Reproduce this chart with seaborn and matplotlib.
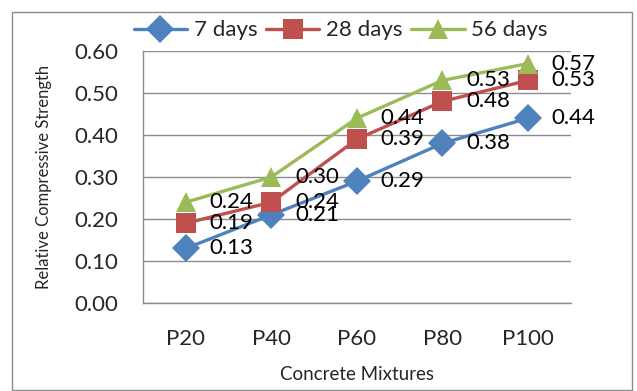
import matplotlib
matplotlib.use("Agg")
import matplotlib.pyplot as plt
import seaborn as sns
import pandas as pd
from matplotlib.patches import Rectangle

categories = ["P20", "P40", "P60", "P80", "P100"]
days7 = [0.13, 0.21, 0.29, 0.38, 0.44]
days28 = [0.19, 0.24, 0.39, 0.48, 0.53]
days56 = [0.24, 0.30, 0.44, 0.53, 0.57]
series_names = ["7 days", "28 days", "56 days"]
yticks = [0.0, 0.1, 0.2, 0.3, 0.4, 0.5, 0.6]

sns.set_theme(style="white")
plt.rcParams["font.family"] = ["Lato", "DejaVu Sans"]

rows = []
for name, vals in zip(series_names, [days7, days28, days56]):
    for c, v in zip(categories, vals):
        rows.append({"Mix": c, "Value": v, "Series": name})
df = pd.DataFrame(rows)

colors = {"7 days": "#4F81BD", "28 days": "#C0504D", "56 days": "#9BBB59"}
markers = {"7 days": "D", "28 days": "s", "56 days": "^"}

fig = plt.figure(figsize=(6.37, 3.91), dpi=100)
ax = fig.add_axes([0.2245, 0.225, 0.6715, 0.6446])

sns.lineplot(data=df, x="Mix", y="Value", hue="Series", style="Series",
             markers=markers, dashes=False, palette=colors, sort=False,
             linewidth=2.4, markersize=14, markeredgewidth=0, ax=ax)

for name, vals in zip(series_names, [days7, days28, days56]):
    for i, v in enumerate(vals):
        ax.annotate(f"{v:.2f}", (i, v), xytext=(17, 0), textcoords="offset points",
                    va="center", ha="left", fontsize=16, color="black")

ax.set_xlim(-0.5, 4.5)
ax.set_ylim(0, 0.6)
ax.set_yticks(yticks)
ax.set_yticklabels([f"{t:.2f}" for t in yticks])
ax.yaxis.grid(True, color="#8c8c8c", linewidth=1.0)
ax.xaxis.grid(False)
for s in ["top", "right"]:
    ax.spines[s].set_visible(False)
for s in ["left", "bottom"]:
    ax.spines[s].set_color("#8c8c8c")
    ax.spines[s].set_linewidth(1.0)
ax.tick_params(axis="y", length=0, pad=18, labelsize=16)
ax.tick_params(axis="x", length=0, pad=19, labelsize=16)
ax.set_xlabel("Concrete Mixtures", fontsize=13.5, labelpad=12)
ax.set_ylabel("Relative Compressive Strength", fontsize=12, labelpad=16)

handles, labels = ax.get_legend_handles_labels()
ax.legend(handles, labels, ncol=3, loc="center", bbox_to_anchor=(0.535, 0.922),
          bbox_transform=fig.transFigure, frameon=False, fontsize=16,
          handlelength=2.4, handletextpad=0.3, columnspacing=0.4, borderpad=0)

fig.patches.append(Rectangle((12/637, 0.002), 620/637, 1 - 12/391 - 0.002,
                             transform=fig.transFigure, fill=False,
                             edgecolor="#8c8c8c", linewidth=1.0))

fig.savefig("out.png", dpi=100)
